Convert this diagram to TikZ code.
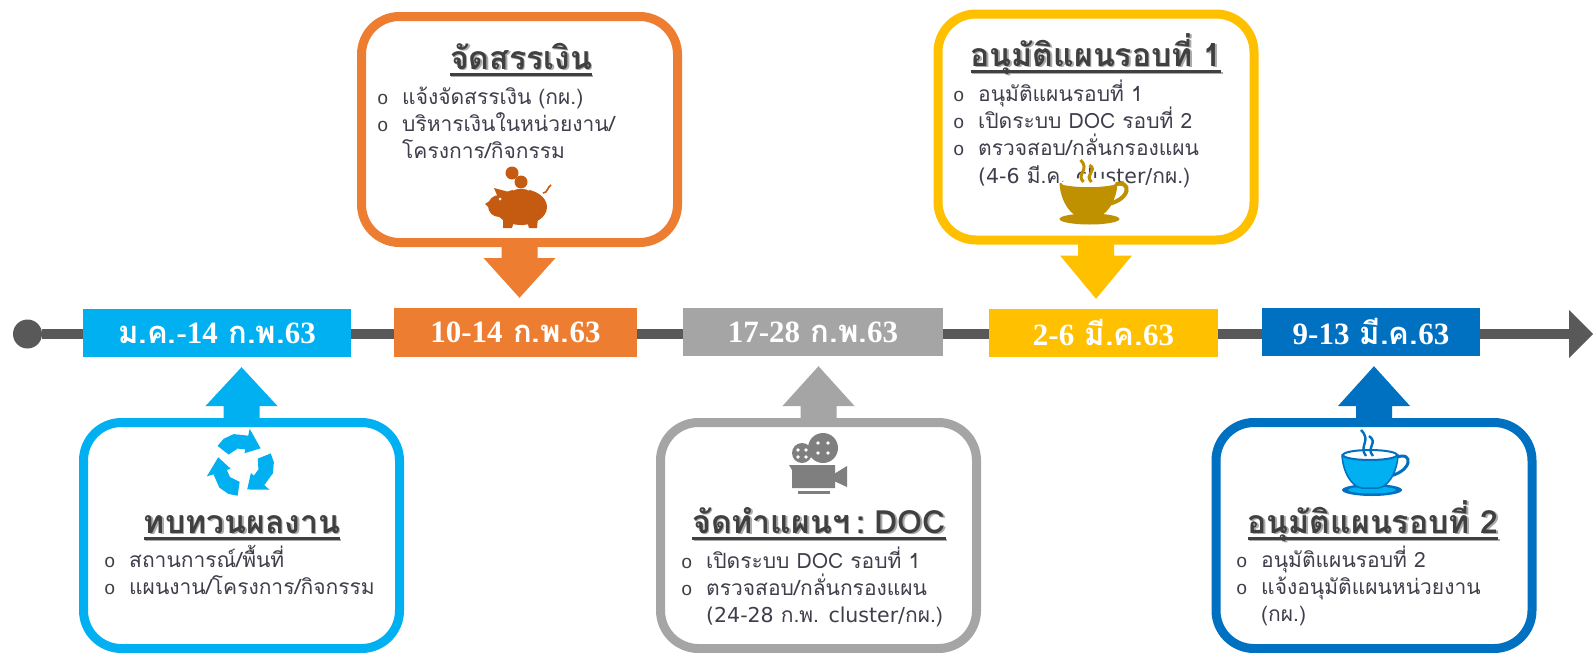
\documentclass[tikz,border=0pt]{standalone}
\usepackage{fontspec}
\usetikzlibrary{calc}
\newfontfamily\thaif[Script=Thai]{Loma}
\newfontfamily\dgf{Liberation Serif}[BoldFont={Liberation Serif Bold}]
\newfontfamily\mof{Liberation Mono}
\newfontfamily\latf{DejaVu Sans}
\definecolor{cblue}{HTML}{00B0F0}
\definecolor{corange}{HTML}{ED7D31}
\definecolor{cgray}{HTML}{A5A5A5}
\definecolor{cyellow}{HTML}{FFC000}
\definecolor{cdblue}{HTML}{0070C0}
\definecolor{cline}{HTML}{595959}
\definecolor{ink}{HTML}{3F3F4C}
\definecolor{head}{HTML}{404040}
\definecolor{shade}{HTML}{ABABAB}
\definecolor{cpig}{HTML}{C55A11}
\definecolor{cgold}{HTML}{BF9000}
\definecolor{cfilm}{HTML}{7F7F7F}
\tikzset{
  card/.style={draw=#1,line width=9pt,rounded corners=38pt,minimum width=316pt,minimum height=226pt,inner sep=0pt,fill=white},
  datebox/.style={fill=#1,text=white,inner sep=0pt,font=\fontsize{31}{34}\selectfont\thaif\bfseries},
  heading/.style={anchor=base,inner sep=0pt,text=head,font=\fontsize{32}{34}\selectfont\thaif\bfseries},
  items/.style={anchor=base west,inner sep=0pt,text=ink,font=\fontsize{21}{27}\selectfont\thaif}
}
\newsavebox\hdbox
\newcommand\hd[1]{\sbox\hdbox{#1}%
  \rlap{\kern1.6pt\raisebox{-1.6pt}{\textcolor{shade}{#1}}}%
  \rlap{\kern1.4pt\textcolor{shade}{\rule[-8.2pt]{\wd\hdbox}{2.6pt}}}%
  \rlap{\textcolor{head}{\rule[-6.6pt]{\wd\hdbox}{2.6pt}}}%
  \usebox\hdbox}
\newcommand\dg[1]{{\dgf\bfseries #1}}
\newcommand\lat[1]{{\latf\fontsize{20.5}{27}\selectfont #1}}
\newcommand\bul[1]{\hbox{\makebox[25pt][l]{\mof\fontsize{19}{27}\selectfont o}#1}}
\newcommand\cont[1]{\hbox{\hspace*{25pt}#1}}
\newcommand\listblock[1]{\vtop{\baselineskip=27.4pt \lineskiplimit=-30pt #1}}
\newcommand\downblock[3]{\fill[#3] ($(#1.south)+(-18,-2)$) -- ($(#1.south)+(-18,11)$) -- ($(#1.south)+(-36,11)$) -- ($(#1.south |- #2.north)+(0,-10)$) -- ($(#1.south)+(36,11)$) -- ($(#1.south)+(18,11)$) -- ($(#1.south)+(18,-2)$) -- cycle;}
\newcommand\upblock[3]{\fill[#3] ($(#1.north)+(-18,2)$) -- ($(#1.north)+(-18,-12)$) -- ($(#1.north)+(-36,-12)$) -- ($(#1.north |- #2.south)+(0,10)$) -- ($(#1.north)+(36,-12)$) -- ($(#1.north)+(18,-12)$) -- ($(#1.north)+(18,2)$) -- cycle;}
\begin{document}
\begin{tikzpicture}[x=1pt,y=-1pt]
\useasboundingbox (0,0) rectangle (1593,653);
% timeline
\node[circle,fill=cline,minimum size=29pt,inner sep=0pt] (start) at (27.5,334) {};
\coordinate (tlend) at (1572,334);
\draw[cline,line width=10pt] (start) -- (tlend);
\fill[cline] (1569,310) -- (1593,334) -- (1569,358) -- cycle;
% dates
\node[datebox=cblue,minimum width=268pt,minimum height=48pt] (d1) at (217,333) {\dg{}ม.ค.\dg{-14} ก.พ.\dg{63}};
\node[datebox=corange,minimum width=243pt,minimum height=49pt] (d2) at (515.5,332.5) {\dg{10-14} ก.พ.\dg{63}};
\node[datebox=cgray,minimum width=260pt,minimum height=48pt] (d3) at (813,332) {\dg{17-28} ก.พ.\dg{63}};
\node[datebox=cyellow,minimum width=229pt,minimum height=48pt] (d4) at (1103.5,333) {\dg{2-6} มี.ค.\dg{63}};
\node[datebox=cdblue,minimum width=218pt,minimum height=48pt] (d5) at (1371,332) {\dg{9-13} มี.ค.\dg{63}};
% cards
\node[card=corange] (c2) at (519.5,129.5) {};
\node[card=cyellow] (c4) at (1096,127) {};
\node[card=cblue] (c1) at (241.5,535.5) {};
\node[card=cgray] (c3) at (818.5,535.5) {};
\node[card=cdblue] (c5) at (1374,535.5) {};
% block arrows
\downblock{c2}{d2}{corange}
\downblock{c4}{d4}{cyellow}
\upblock{c1}{d1}{cblue}
\upblock{c3}{d3}{cgray}
\upblock{c5}{d5}{cdblue}
% headings
\node[heading] (h2) at (521,69) {\hd{จัดสรรเงิน}};
\node[heading] (h4) at (1096,66) {\hd{อนุมัติแผนรอบที่ 1}};
\node[heading] (h1) at (242,533) {\hd{ทบทวนผลงาน}};
\node[heading] (h3) at (819,533) {\hd{\spaceskip=6pt จัดทำแผนฯ : DOC}};
\node[heading] (h5) at (1373,533) {\hd{อนุมัติแผนรอบที่ 2}};
% lists
\node[items] (l2) at (377,104) {\listblock{\bul{แจ้งจัดสรรเงิน (กผ.)}\bul{บริหารเงินในหน่วยงาน/}\cont{โครงการ/กิจกรรม}}};
\node[items] (l4) at (953,101) {\listblock{\bul{อนุมัติแผนรอบที่ 1}\bul{เปิดระบบ DOC รอบที่ 2}\bul{ตรวจสอบ/กลั่นกรองแผน}\cont{\lat{(4-6} มี.ค. \lat{cluster/}กผ.)}}};
\node[items] (l1) at (104,567) {\listblock{\bul{สถานการณ์/พื้นที่}\bul{แผนงาน/โครงการ/กิจกรรม}}};
\node[items] (l3) at (681,568) {\listblock{\bul{เปิดระบบ DOC รอบที่ 1}\bul{ตรวจสอบ/กลั่นกรองแผน}\cont{\lat{(24-28} ก.พ. \lat{cluster/}กผ.)}}};
\node[items] (l5) at (1236,567) {\listblock{\bul{อนุมัติแผนรอบที่ 2}\bul{แจ้งอนุมัติแผนหน่วยงาน}\cont{(กผ.)}}};
% piggy bank
\begin{scope}[cpig]
\fill (512,173) circle (6.5);
\fill (521,182) circle (6.5);
\fill (521,207) ellipse (26 and 18);
\fill (499,206) circle (11);
\fill (485,204) -- (497,196) -- (497,215) -- cycle;
\fill (494,188) -- (509,192) -- (499,200) -- cycle;
\fill (503,218) -- (515,218) -- (512,228) -- (503,228) -- cycle;
\fill (526,218) -- (538,218) -- (537,228) -- (529,228) -- cycle;
\draw[line width=1.6pt] (543,193) .. controls (548,193) and (547,187) .. (551,185);
\fill[white] (500,199) circle (1.5);
\draw[white,line width=1.2pt] (513,190) -- (517,188) (525,188) -- (529,190);
\end{scope}
% gold cup
\begin{scope}[shift={(1088.5,183)}]
\fill[cgold] (1,36) ellipse (30 and 5.5);
\draw[cgold,line width=4pt] (25,2) .. controls (44,-5) and (44,18) .. (15,22);
\fill[cgold] (-29,0) .. controls (-28,20) and (-16,34) .. (-8,34) -- (8,34) .. controls (16,34) and (28,20) .. (29,0) -- cycle;
\fill[white] (0,0) ellipse (27 and 5);
\fill[cgold] (-25,2) .. controls (-10,5) and (10,5) .. (25,2) .. controls (10,8) and (-10,8) .. (-25,2) -- cycle;
\draw[cgold,line width=3pt] (-5,-1) .. controls (-13,-9) and (2,-13) .. (-8,-23);
\draw[cgold,line width=3pt] (3,-1) .. controls (-5,-9) and (10,-12) .. (1,-18);
\end{scope}
% blue cup
\begin{scope}[shift={(1370,455)}]
\fill[cdblue] (2,35) ellipse (30 and 6);
\fill[cblue] (2,35) ellipse (24 and 3.5);
\draw[cdblue,line width=3pt] (25,3) .. controls (44,-6) and (44,18) .. (15,22);
\fill[cblue,draw=cdblue,line width=1.5pt] (-28,0) .. controls (-27,20) and (-16,33) .. (-8,33) -- (8,33) .. controls (16,33) and (27,20) .. (28,0) -- cycle;
\fill[white,draw=cdblue,line width=2pt] (0,0) ellipse (27 and 5);
\draw[cdblue,line width=2.4pt] (-4,1) .. controls (-12,-9) and (2,-14) .. (-9,-25);
\draw[cdblue,line width=2.4pt] (3,1) .. controls (-5,-8) and (9,-12) .. (-1,-19);
\end{scope}
% recycle symbol
\begin{scope}[shift={(242,465)}]
\foreach \a in {0,120,240}{
  \fill[cblue,rotate=\a] (-22:17) -- (-22:31) -- (-5:32) -- (15:32) -- (42:30) -- (42:37) -- (78:25) -- (42:12) -- (42:16) -- (15:17) -- cycle;
}
\end{scope}
% film camera
\begin{scope}[cfilm]
\fill (823,448) circle (15);
\fill (802,453) circle (10);
\fill (789,465) -- (835,465) -- (835,488) -- (792,488) -- (792,470) -- cycle;
\fill (834,474) -- (847,466) -- (847,487) -- (834,481) -- cycle;
\fill (798,491) -- (830,491) -- (830,494) -- (798,494) -- cycle;
\foreach \p in {(818,443),(828,443),(818,453),(828,453),(798,450),(806,450),(798,457),(806,457)}
  \fill[white] \p circle (1.8);
\end{scope}
\end{tikzpicture}
\end{document}
